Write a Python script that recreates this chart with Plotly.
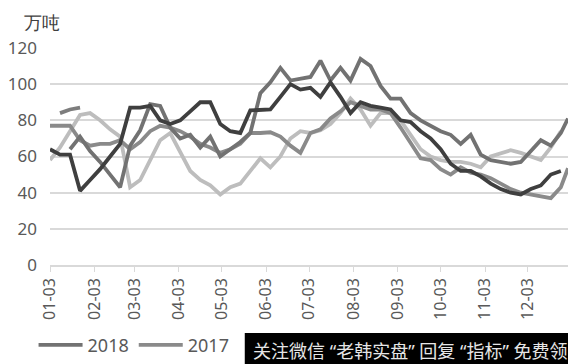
import pandas as pd
import plotly.graph_objects as go

# ---- data ----
dates = list(pd.date_range("2018-01-03", periods=52, freq="7D").strftime("%Y-%m-%d")) + ["2018-12-31"]

s2016 = [64,61,61,41,47,53,60,67,87,87,
         88,80,78,80,85,90,90,78,74,73,
         85.5,85.5,86,93,100,97,98,93,101,93,
         84,90,88,87,86,80,79,74,70,64,
         56,52,52,49,45,42,40,39,42,44,
         50,52,None]
s2015 = [58,65,74,83,84,80,75,71,43,47,
         58,69,73,62,52,47,44,39,43,45,
         52,59,54,60,70,74,73,74.5,78,84,
         92,86,77,84,84,80,72,64,60,58,
         57,57,56,54,60,62,63.5,62,60,58,
         65,74,None]
s2018 = [None,None,64,71,63,57,50,43,66,74.5,
         89,88,76,70,72,65,71,60,64,68,
         73,95,101,109,102,103,104,113,102,109,
         102,114,110,99,92,92,84,80,77,74,
         72,67,72,61,58,57,56,57,63,69,
         66,73,81]
s2017 = [77,77,77,69,66,67,67,69,64,68,
         74,77,76,74,71,67,65,62,64,67,
         73,73,73.4,71,66,62,73,75,81,85,
         90,88,86,86,84,76,67,59,58,53,
         50,54,51,50,48,45,42,40,39,38,
         37,43,53.5]
s2019 = [None,84,86,87] + [None]*49

tick_vals = ["2018-%02d-03" % m for m in range(1, 13)]
tick_text = ["%02d-03" % m for m in range(1, 13)]
y_ticks = [0, 20, 40, 60, 80, 100, 120]

fig = go.Figure()
series = [
    ("2015", s2015, "#bdbdbd", False),
    ("2017", s2017, "#8a8a8a", True),
    ("2018", s2018, "#727272", True),
    ("2019", s2019, "#7d7d7d", False),
    ("2016", s2016, "#3f3f3f", False),
]
for name, ys, col, show in series:
    fig.add_trace(go.Scatter(x=dates, y=ys, name=name, mode="lines",
                             line=dict(color=col, width=3.8),
                             connectgaps=False, showlegend=show))

font = "Noto Sans, Open Sans, sans-serif"
# page body has an 8px margin, so the figure is 8px smaller and margins shifted
fig.update_layout(
    width=568, height=356,
    margin=dict(l=42, r=8, t=40, b=99, autoexpand=False),
    paper_bgcolor="white", plot_bgcolor="white",
    font=dict(family=font, color="#595959", size=17),
    legend=dict(orientation="h", xref="container", yref="container",
                x=0.045, y=0.053, xanchor="left", yanchor="middle",
                traceorder="reversed", font=dict(size=18, color="#595959"),
                itemwidth=44, tracegroupgap=0, bgcolor="rgba(0,0,0,0)"),
    xaxis=dict(type="date", range=["2018-01-03", "2018-12-31"],
               tickvals=tick_vals, ticktext=tick_text, tickangle=-90,
               showgrid=False, showline=True, linecolor="#d9d9d9", linewidth=1.5,
               ticks="outside", ticklen=5, tickcolor="#d9d9d9", automargin=False,
               tickfont=dict(size=16, color="#595959"), zeroline=False),
    yaxis=dict(range=[0, 120], tickvals=y_ticks, showgrid=True, automargin=False,
               gridcolor="#d9d9d9", gridwidth=1.5, zeroline=False, showline=False,
               ticklabelstandoff=12, tickfont=dict(size=17, color="#595959")),
)

fig.add_annotation(text="万吨", xref="paper", yref="paper", x=-0.015, y=1.182,
                   xanchor="center", yanchor="top", showarrow=False, borderpad=0,
                   font=dict(size=18, color="#404040"))

# watermark band
fig.add_shape(type="rect", xref="paper", yref="paper", x0=0.376, x1=1.03,
              y0=-0.313, y1=-0.48, fillcolor="black", line=dict(width=0), layer="above")
fig.add_annotation(text="关注微信 “老韩实盘” 回复 “指标” 免费领", xref="paper", yref="paper",
                   x=0.388, y=-0.395, xanchor="left", yanchor="middle", showarrow=False,
                   font=dict(size=18, color="#e6e6e6", family="Noto Sans, Noto Sans CJK SC"))

fig.write_html("out.html")
